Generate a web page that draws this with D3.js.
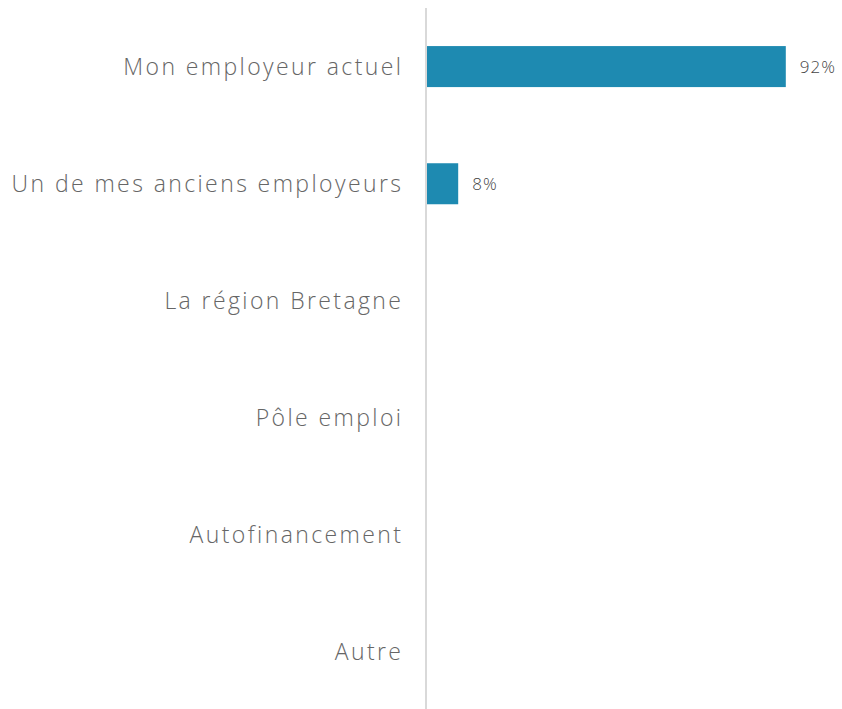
<!DOCTYPE html>
<html>
<head>
<meta charset="utf-8">
<script src="https://cdn.jsdelivr.net/npm/d3@7"></script>
<style>
  body { margin: 0; background: #fff; }
  text { font-family: "Open Sans", Lato, sans-serif; }
</style>
</head>
<body>
<div id="chart"></div>
<script>
var categories = ["Mon employeur actuel", "Un de mes anciens employeurs", "La région Bretagne",
                  "Pôle emploi", "Autofinancement", "Autre"];
var values = [92, 8, 0, 0, 0, 0];

var width = 842, height = 709;
var x0 = 427;

var svg = d3.select("#chart").append("svg")
    .attr("width", width)
    .attr("height", height);

var x = d3.scaleLinear().domain([0, 100]).range([x0, x0 + 390]);
var y = d3.scaleBand().domain(categories).range([8, 711]).paddingInner(0.65).paddingOuter(0.325);

var rows = categories.map(function (c, i) { return { cat: c, val: values[i] }; });

// bars
svg.selectAll("rect.bar")
    .data(rows.filter(function (d) { return d.val > 0; }))
    .enter().append("rect")
    .attr("class", "bar")
    .attr("x", x(0))
    .attr("y", function (d) { return y(d.cat); })
    .attr("width", function (d) { return x(d.val) - x(0); })
    .attr("height", y.bandwidth())
    .style("fill", "#1e8ab1");

// value labels
svg.selectAll("text.val")
    .data(rows.filter(function (d) { return d.val > 0; }))
    .enter().append("text")
    .attr("class", "val")
    .attr("x", function (d) { return x(d.val) + 14; })
    .attr("y", function (d) { return y(d.cat) + y.bandwidth() / 2; })
    .attr("dy", "0.35em")
    .style("font-size", "17px")
    .style("font-weight", 300)
    .style("letter-spacing", "1px")
    .style("fill", "#444")
    .text(function (d) { return d.val + "%"; });

// category labels
svg.selectAll("text.cat")
    .data(categories)
    .enter().append("text")
    .attr("class", "cat")
    .attr("x", 403.4)
    .attr("y", function (d) { return y(d) + y.bandwidth() / 2; })
    .attr("dy", "0.35em")
    .attr("text-anchor", "end")
    .style("font-size", "23px")
    .style("font-weight", 300)
    .style("letter-spacing", "2.4px")
    .style("fill", "#666")
    .text(function (d) { return d; });

// axis line
svg.append("line")
    .attr("x1", x0 - 1).attr("x2", x0 - 1)
    .attr("y1", 8).attr("y2", 709)
    .style("stroke", "#d9d9d9")
    .style("stroke-width", 2);
</script>
</body>
</html>
